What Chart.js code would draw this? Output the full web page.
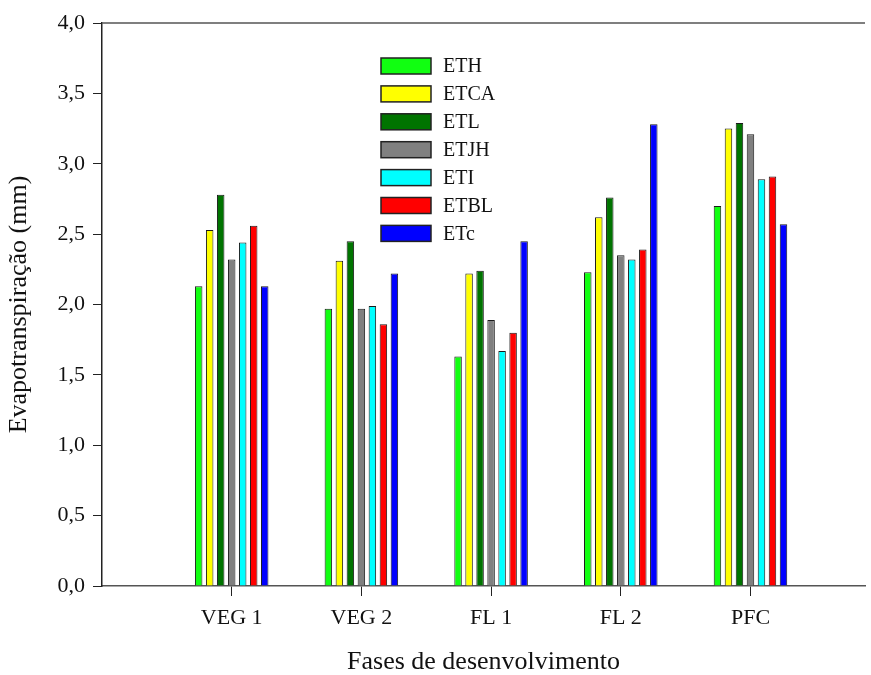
<!DOCTYPE html>
<html>
<head>
<meta charset="utf-8">
<script src="https://cdn.jsdelivr.net/npm/chart.js@4/dist/chart.umd.min.js"></script>
<style>
  html, body { margin: 0; padding: 0; background: #fff; }
  #wrap { width: 871px; height: 675px; }
</style>
</head>
<body>
<div id="wrap"><canvas id="et-chart" width="871" height="675"></canvas></div>
<script>
// development phases (x axis)
const phases = ['VEG 1', 'VEG 2', 'FL 1', 'FL 2', 'PFC'];

// evapotranspiration by method, mm
const ETH  = [2.13, 1.97, 1.63, 2.23, 2.70];
const ETCA = [2.53, 2.31, 2.22, 2.62, 3.25];
const ETL  = [2.78, 2.45, 2.24, 2.76, 3.29];
const ETJH = [2.32, 1.97, 1.89, 2.35, 3.21];
const ETI  = [2.44, 1.99, 1.67, 2.32, 2.89];
const ETBL = [2.56, 1.86, 1.80, 2.39, 2.91];
const ETc  = [2.13, 2.22, 2.45, 3.28, 2.57];

const yTicks = [0, 0.5, 1, 1.5, 2, 2.5, 3, 3.5, 4];

const series = [
    { name: 'ETH',  values: ETH,  color: '#11ff11' },
    { name: 'ETCA', values: ETCA, color: '#ffff00' },
    { name: 'ETL',  values: ETL,  color: '#007400' },
    { name: 'ETJH', values: ETJH, color: '#808080' },
    { name: 'ETI',  values: ETI,  color: '#00ffff' },
    { name: 'ETBL', values: ETBL, color: '#ff0000' },
    { name: 'ETc',  values: ETc,  color: '#0000ff' },
];

const serif = "'Liberation Serif', 'Times New Roman', serif";

// frame line on top of the plot
const topLine = {
    id: 'topLine',
    afterDraw(chart) {
        const { ctx, chartArea } = chart;
        ctx.save();
        ctx.strokeStyle = '#555';
        ctx.lineWidth = 1.5;
        ctx.beginPath();
        ctx.moveTo(chartArea.left, chartArea.top);
        ctx.lineTo(chartArea.right, chartArea.top);
        ctx.stroke();
        ctx.restore();
    }
};

// legend block drawn inside the plot
const boxLegend = {
    id: 'boxLegend',
    afterDraw(chart) {
        const { ctx, chartArea } = chart;
        const x = chartArea.left + 279;
        let y = chartArea.top + 35;
        ctx.save();
        ctx.font = '20px ' + serif;
        ctx.textBaseline = 'middle';
        chart.data.datasets.forEach(ds => {
            ctx.fillStyle = ds.backgroundColor;
            ctx.fillRect(x, y, 50, 16);
            ctx.strokeStyle = '#222';
            ctx.lineWidth = 1.5;
            ctx.strokeRect(x, y, 50, 16);
            ctx.fillStyle = '#111';
            ctx.fillText(ds.label, x + 62, y + 9);
            y += 27.9;
        });
        ctx.restore();
    }
};

new Chart(document.querySelector('#et-chart').getContext('2d'), {
    type: 'bar',
    data: {
        datasets: series.map(s => ({
            label: s.name,
            data: s.values.map((v, i) => ({ x: i + 1, y: v })),
            backgroundColor: s.color,
            borderColor: '#1a1a1a',
            borderWidth: 1,
            categoryPercentage: 0.594,
            barPercentage: 0.68,
        }))
    },
    options: {
        responsive: false,
        animation: false,
        layout: { padding: { top: 23, right: 6, left: 0, bottom: 0 } },
        plugins: {
            legend: { display: false },
            tooltip: { enabled: false },
        },
        scales: {
            x: {
                type: 'linear',
                min: 0,
                max: 5.883,
                offset: false,
                afterBuildTicks: scale => {
                    scale.ticks = phases.map((p, i) => ({ value: i + 1 }));
                },
                afterFit: scale => { scale.height = 89; },
                ticks: {
                    color: '#111',
                    font: { family: serif, size: 22 },
                    padding: 9,
                    maxRotation: 0,
                    autoSkip: false,
                    callback: v => phases[v - 1] || '',
                },
                grid: {
                    display: true,
                    offset: false,
                    drawOnChartArea: false,
                    drawTicks: true,
                    tickLength: 10,
                    color: '#222',
                },
                border: { display: true, color: '#555', width: 1.5 },
                title: {
                    display: true,
                    text: 'Fases de desenvolvimento',
                    color: '#111',
                    font: { family: serif, size: 26, lineHeight: 0.9 },
                    padding: { top: 0, bottom: 1 },
                },
            },
            y: {
                min: 0,
                max: 4,
                afterBuildTicks: scale => {
                    scale.ticks = yTicks.map(v => ({ value: v }));
                },
                afterFit: scale => { scale.width = 102; },
                ticks: {
                    color: '#111',
                    font: { family: serif, size: 22 },
                    padding: 8,
                    callback: v => v.toFixed(1).replace('.', ','),
                },
                grid: {
                    display: true,
                    drawOnChartArea: false,
                    drawTicks: true,
                    tickLength: 9,
                    color: '#222',
                },
                border: { display: true, color: '#222', width: 1.5 },
                title: {
                    display: true,
                    text: 'Evapotranspiração (mm)',
                    color: '#111',
                    font: { family: serif, size: 26 },
                    padding: { top: 4, bottom: 0 },
                },
            },
        },
    },
    plugins: [topLine, boxLegend],
});
</script>
</body>
</html>
